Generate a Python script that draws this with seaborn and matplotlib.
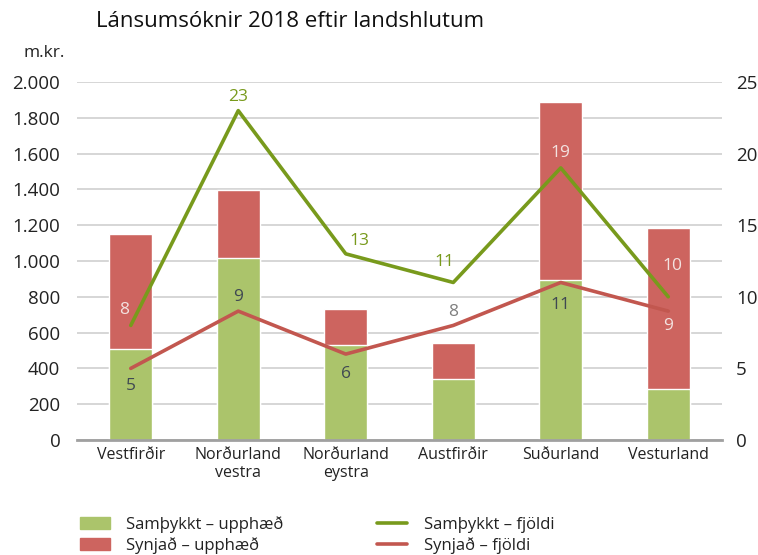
import numpy as np
import pandas as pd
import matplotlib
matplotlib.use("Agg")
import matplotlib.pyplot as plt
from matplotlib.patches import Patch
from matplotlib.lines import Line2D
from matplotlib.ticker import FuncFormatter, MultipleLocator
import seaborn as sns

categories = ["Vestfirðir", "Norðurland\nvestra", "Norðurland\neystra", "Austfirðir", "Suðurland", "Vesturland"]
samthykkt_upphaed = [510, 1017, 530, 342, 894, 285]
synjad_upphaed = [640, 380, 202, 200, 994, 899]
samthykkt_fjoldi = [8, 23, 13, 11, 19, 10]
synjad_fjoldi = [5, 9, 6, 8, 11, 9]

GREEN_BAR = "#ABC46B"
RED_BAR = "#CD645F"
GREEN_LINE = "#789A1C"
RED_LINE = "#C2574F"

sns.set_theme(style="white")
plt.rcParams['font.family'] = ['Open Sans', 'DejaVu Sans']

df = pd.DataFrame({
    "cat": categories,
    "green": samthykkt_upphaed,
    "total": np.array(samthykkt_upphaed) + np.array(synjad_upphaed),
    "cnt_g": samthykkt_fjoldi,
    "cnt_r": synjad_fjoldi,
})

fig = plt.figure(figsize=(7.58, 5.55), dpi=100)
ax = fig.add_axes([0.1016, 0.2072, 0.8509, 0.6451])

sns.barplot(data=df, x="cat", y="total", color=RED_BAR, width=0.4, ax=ax, saturation=1, zorder=2)
sns.barplot(data=df, x="cat", y="green", color=GREEN_BAR, width=0.4, ax=ax, saturation=1, zorder=2)

ax.set_ylim(0, 2000)
ax.set_xlim(-0.5, len(categories) - 0.5)
ax.yaxis.set_major_locator(MultipleLocator(200))
ax.yaxis.set_major_formatter(FuncFormatter(lambda v, p: f"{int(v):,}".replace(",", ".")))
ax.grid(axis="y", color="#D0D0D0", linewidth=1.2, zorder=0)
ax.set_axisbelow(True)
for s in ["top", "right", "left"]:
    ax.spines[s].set_visible(False)
ax.spines["bottom"].set_color("#A0A0A0")
ax.spines["bottom"].set_linewidth(2)
ax.set_xlabel("")
ax.set_ylabel("")
ax.tick_params(axis="y", length=0, labelsize=13.5, pad=12, colors="#222222")
ax.tick_params(axis="x", length=0, labelsize=11.5, pad=5, colors="#222222")

ax2 = ax.twinx()
sns.lineplot(data=df, x="cat", y="cnt_g", color=GREEN_LINE, linewidth=2.6, sort=False, ax=ax2)
sns.lineplot(data=df, x="cat", y="cnt_r", color=RED_LINE, linewidth=2.6, sort=False, ax=ax2)
ax2.set_ylim(0, 25)
ax2.yaxis.set_major_locator(MultipleLocator(5))
for s in ["top", "right", "left", "bottom"]:
    ax2.spines[s].set_visible(False)
ax2.set_ylabel("")
ax2.set_xlabel("")
ax2.tick_params(axis="y", length=0, labelsize=13.5, pad=10, colors="#222222")

# data labels
g_off = [(-5, 11), (0, 10), (10, 9), (-6, 15), (0, 11), (3, 22)]
g_col = ["#F3E2E0", GREEN_LINE, GREEN_LINE, GREEN_LINE, "#F3E2E0", "#F3E2E0"]
r_off = [(0, -13), (0, 10), (0, -14), (0, 10), (0, -16), (0, -11)]
r_col = ["#3F4852", "#3F4852", "#3F4852", "#7F7F7F", "#3F4852", "#F3E2E0"]
for i, (vg, vr) in enumerate(zip(samthykkt_fjoldi, synjad_fjoldi)):
    ax2.annotate(str(vg), (i, vg), xytext=g_off[i], textcoords="offset points",
                 ha="center", va="center", fontsize=12.5, color=g_col[i])
    ax2.annotate(str(vr), (i, vr), xytext=r_off[i], textcoords="offset points",
                 ha="center", va="center", fontsize=12.5, color=r_col[i])

fig.text(0.126, 0.962, "Lánsumsóknir 2018 eftir landshlutum", fontsize=16, fontweight="medium",
         color="#111111", ha="left", va="center")
fig.text(0.058, 0.905, "m.kr.", fontsize=12.5, color="#222222", ha="center", va="center")

handles = [Patch(color=GREEN_BAR), Patch(color=RED_BAR),
           Line2D([], [], color=GREEN_LINE, lw=2.6), Line2D([], [], color=RED_LINE, lw=2.6)]
labels = ["Samþykkt – upphæð", "Synjað – upphæð", "Samþykkt – fjöldi", "Synjað – fjöldi"]
fig.legend(handles, labels, ncol=2, loc="lower left", bbox_to_anchor=(0.105, 0.002),
           frameon=False, fontsize=12, columnspacing=5.6, handlelength=1.8, handleheight=0.7,
           labelspacing=0.25, handletextpad=1.0, labelcolor="#222222",
           borderaxespad=0, borderpad=0)

fig.savefig("out.png", dpi=100)
